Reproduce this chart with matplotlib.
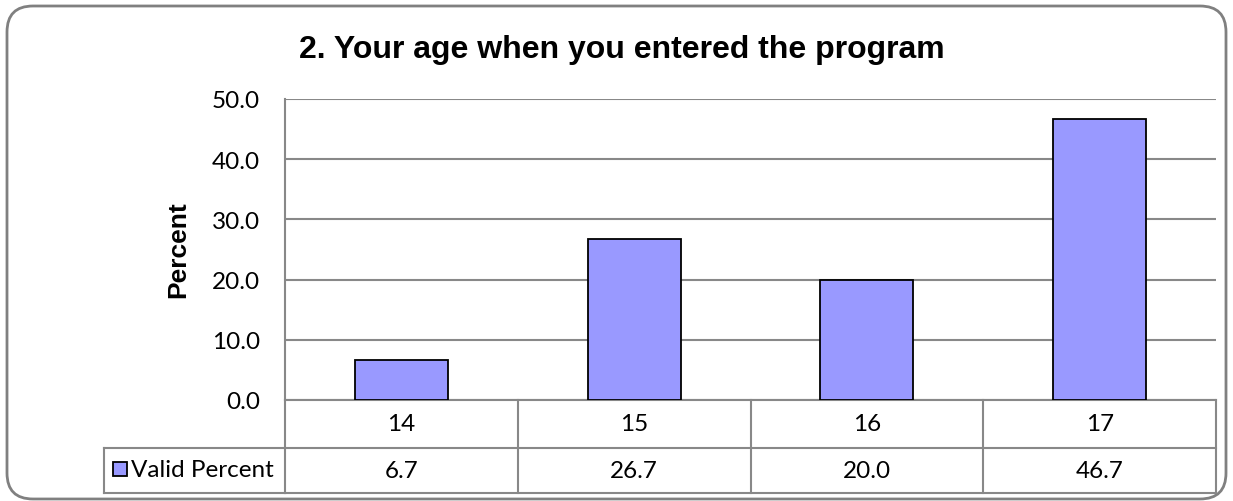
import matplotlib
matplotlib.use("Agg")
import matplotlib.pyplot as plt
from matplotlib.patches import FancyBboxPatch, Rectangle
from matplotlib.transforms import blended_transform_factory

# data
ages = ["14", "15", "16", "17"]
valid_percent = [6.7, 26.7, 20.0, 46.7]
series_name = "Valid Percent"
title = "2. Your age when you entered the program"
y_ticks = [0, 10, 20, 30, 40, 50]

W, H = 1233, 502
bar_color = "#9999FF"
grid_color = "#888888"
num_font = "Lato"
head_font = "Liberation Sans"
num_size = 17.5


def main():
    fig = plt.figure(figsize=(W / 100, H / 100), dpi=100)

    # background overlay in pixel coords (rounded frame)
    bg = fig.add_axes([0, 0, 1, 1], zorder=-1)
    bg.set_xlim(0, W)
    bg.set_ylim(H, 0)
    bg.axis("off")
    bg.add_patch(FancyBboxPatch((7, 7), W - 14, H - 9,
                                boxstyle="round,pad=0,rounding_size=26",
                                facecolor="white", edgecolor="#808080", linewidth=2))

    # plot area
    left, right = 285 / W, 1216 / W
    bottom, top = (H - 401) / H, (H - 100) / H
    ax = fig.add_axes([left, bottom, right - left, top - bottom])
    x = list(range(len(ages)))
    ax.bar(x, valid_percent, width=0.40, color=bar_color, edgecolor="black",
           linewidth=1.3, zorder=3)
    ax.set_xlim(-0.5, len(ages) - 0.5)
    ax.set_ylim(0, 50)
    ax.set_yticks(y_ticks)
    ax.set_yticklabels([f"{v:.1f}" for v in y_ticks], fontfamily=num_font,
                       fontsize=num_size)
    ax.tick_params(axis="y", length=0, pad=18)
    ax.set_xticks([])
    ax.grid(axis="y", color=grid_color, linewidth=1.5, zorder=0)
    for s in ["top", "right", "bottom"]:
        ax.spines[s].set_visible(False)
    ax.spines["left"].set_color(grid_color)
    ax.spines["left"].set_linewidth(1.5)

    fig.text(178 / W, (H - 250) / H, "Percent", rotation=90, fontfamily=head_font,
             fontweight="bold", fontsize=19, ha="center", va="center")
    fig.text(622 / W, (H - 50) / H, title, fontfamily=head_font, fontweight="bold",
             fontsize=23, ha="center", va="center")

    # data table under the axes
    tr = blended_transform_factory(ax.transData, fig.transFigure)
    y_top = (H - 401) / H
    y_mid = (H - 449) / H
    y_bot = (H - 494) / H
    lc = dict(color=grid_color, linewidth=1.5, clip_on=False)
    n = len(ages)
    # horizontal lines
    ax.plot([-0.5, n - 0.5], [y_top, y_top], transform=tr, **lc)
    ax.plot([-0.5, n - 0.5], [y_bot, y_bot], transform=tr, **lc)
    ax.plot([-0.5, n - 0.5], [y_mid, y_mid], transform=tr, **lc)
    # legend cell
    fig.add_artist(plt.Line2D([104 / W, left], [y_mid, y_mid], **lc))
    fig.add_artist(plt.Line2D([104 / W, left], [y_bot, y_bot], **lc))
    fig.add_artist(plt.Line2D([104 / W, 104 / W], [y_bot, y_mid], **lc))
    # vertical lines
    for b in range(n + 1):
        ax.plot([b - 0.5, b - 0.5], [y_bot, y_top], transform=tr, **lc)
    for i, (a, v) in enumerate(zip(ages, valid_percent)):
        ax.text(i, (y_top + y_mid) / 2, a, transform=tr, ha="center", va="center",
                fontfamily=num_font, fontsize=num_size)
        ax.text(i, (y_mid + y_bot) / 2, f"{v:.1f}", transform=tr, ha="center",
                va="center", fontfamily=num_font, fontsize=num_size)
    # legend key
    bg.add_patch(Rectangle((113, 463), 14, 14, facecolor=bar_color, edgecolor="black",
                           linewidth=1.3))
    bg.text(131, 471, series_name, ha="left", va="center", fontfamily=num_font,
            fontsize=num_size)

    fig.savefig("out.png", dpi=100)


main()
